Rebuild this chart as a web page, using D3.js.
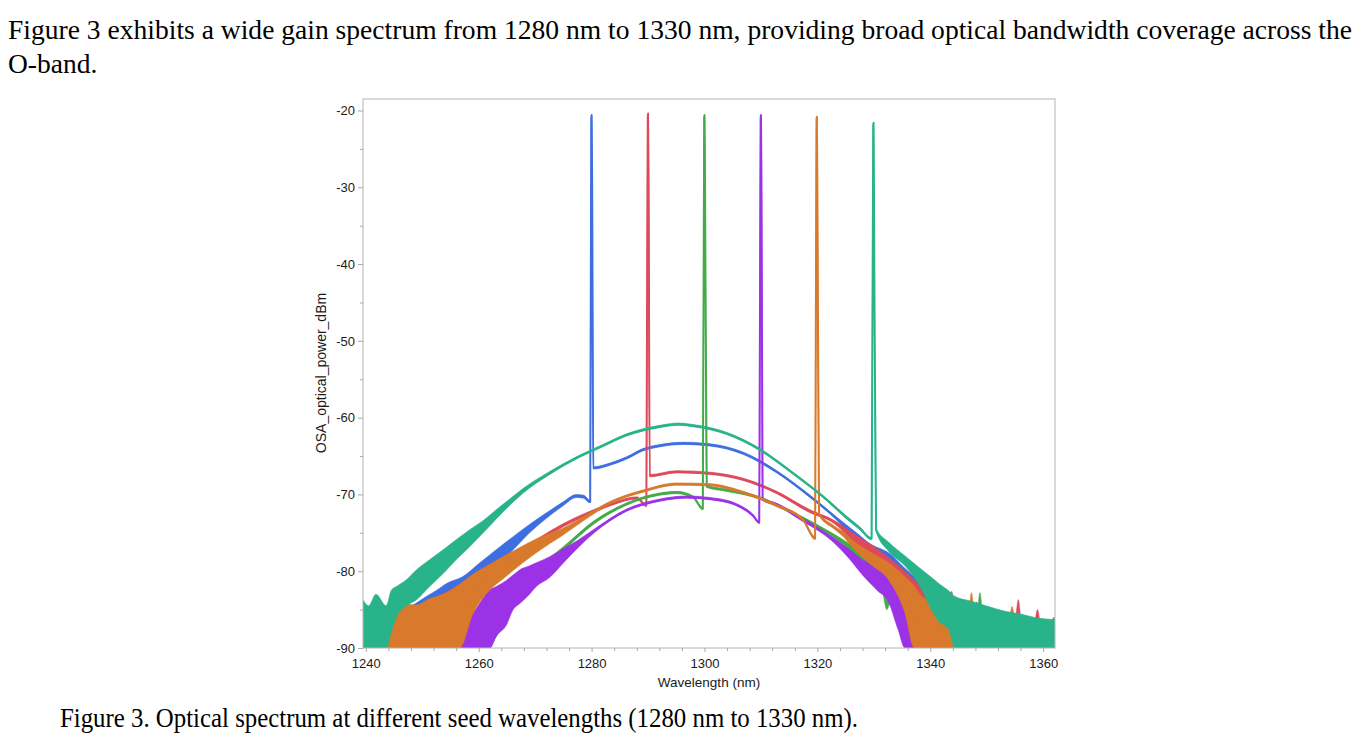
<!DOCTYPE html>
<html>
<head>
<meta charset="utf-8">
<script src="https://cdnjs.cloudflare.com/ajax/libs/d3/7.8.5/d3.min.js"></script>
<style>
	body { margin: 0; background: #fff; }
	svg { display: block; }
	.para { font-family: "Liberation Serif", "Times New Roman", serif; font-size: 27.5px; fill: #000; }
	.caption { font-family: "Liberation Serif", "Times New Roman", serif; font-size: 27px; fill: #000; }
	.axis text { font-family: "Liberation Sans", Arial, sans-serif; font-size: 13px; fill: #1a1a1a; }
	.axis line { stroke: #a8a8a8; }
	.axis path { display: none; }
	.label { font-family: "Liberation Sans", Arial, sans-serif; font-size: 13.5px; fill: #1a1a1a; }
</style>
</head>
<body>
<script>
// seed wavelengths (nm), one trace per seed
var seeds = [1280, 1290, 1300, 1310, 1320, 1330];
var colors = ["#3e6fe0", "#dc4a5c", "#43ab48", "#9c32e6", "#d8792b", "#28b38b"];

var xTicks = [1240, 1260, 1280, 1300, 1320, 1340, 1360];
var yTicks = [-90, -80, -70, -60, -50, -40, -30, -20];

// traces: [wavelength nm, upper edge dBm, lower edge dBm]
// where the trace is noisy the two edges are apart, elsewhere they nearly meet
var spec1280 = [
	[1239.5, -85, -90], [1244, -85, -90], [1248, -84.5, -90], [1250.7, -83.3, -87],
	[1252.5, -82.5, -85.5], [1254.3, -81.6, -84.1], [1257.2, -80.7, -83.3], [1260.2, -78.9, -81.1],
	[1263.1, -77.2, -79.2], [1266.1, -75.5, -77.2], [1269, -73.9, -75], [1272, -72.4, -73.1],
	[1274.9, -71, -71.5], [1277.3, -70, -70.4], [1278.6, -70.1, -70.5], [1279.75, -70.8, -71.1],
	[1279.95, -21, -21], [1280, -20.6, -20.6], [1280.1, -30, -30], [1280.3, -66.4, -66.7],
	[1283.3, -65.9, -66.2], [1286.2, -65.1, -65.4], [1289.2, -64, -64.3], [1292.1, -63.5, -63.8],
	[1296.3, -63.2, -63.5], [1301, -63.4, -63.7], [1306.9, -64.5, -64.8], [1312.8, -66.9, -67.2],
	[1318.7, -70.1, -70.4], [1323.5, -73, -73.4], [1326.6, -74.8, -75.8], [1329.5, -76.5, -77.8],
	[1332.6, -77.6, -79.2], [1335.5, -79.6, -81.5], [1337.9, -81.2, -84], [1340, -82.5, -90],
	[1343, -84.5, -90], [1348, -85.8, -90], [1351.5, -86.2, -90], [1352.1, -85.3, -90],
	[1352.7, -86.3, -90], [1362.1, -87, -90]
];

var spec1290 = [
	[1239.5, -86, -90], [1244, -86, -90], [1246, -85.6, -90], [1250, -84.2, -90],
	[1253, -83.2, -88], [1256, -82, -86], [1259, -80.4, -84], [1262, -79.1, -81.5],
	[1265, -77.9, -79.2], [1268, -76.8, -77.6], [1271, -75.5, -76], [1275, -73.8, -74.2],
	[1280.3, -72, -72.4], [1284, -71, -71.3], [1288, -70.3, -70.6], [1289.7, -71.3, -71.6],
	[1289.95, -21, -21], [1290, -20.4, -20.4], [1290.1, -30, -30], [1290.3, -67.4, -67.7],
	[1295.1, -66.9, -67.2], [1301, -67.1, -67.4], [1306.9, -67.9, -68.2], [1312.8, -69.6, -69.9],
	[1318.7, -72, -72.4], [1322.8, -73.3, -73.7], [1326.6, -75.2, -76.3], [1329.6, -76.6, -78.2],
	[1332.6, -78.2, -80.5], [1335.5, -80, -83.5], [1338, -81.8, -90], [1341, -84, -90],
	[1343.2, -85, -90], [1343.8, -82.6, -90], [1344.4, -85.5, -90], [1350, -86.3, -90],
	[1355, -86.6, -90], [1355.6, -83.7, -90], [1356.2, -86.8, -90], [1358.4, -86.9, -90],
	[1359, -85, -90], [1359.6, -87, -90], [1362.1, -87, -90]
];

var spec1300 = [
	[1239.5, -86.5, -90], [1250, -86.5, -90], [1258, -86, -90], [1261.4, -85, -90],
	[1263.5, -83.5, -88], [1265.5, -82.2, -85], [1267.3, -80.8, -82.8], [1270.2, -79.3, -80.5],
	[1272.6, -78.2, -78.9], [1275, -76.8, -77.3], [1280.3, -73.5, -73.9], [1286.2, -71.1, -71.4],
	[1292.1, -69.8, -70.1], [1295.1, -69.6, -69.9], [1298, -70.2, -70.5], [1299.7, -71.7, -72],
	[1299.95, -21, -21], [1300, -20.6, -20.6], [1300.1, -30, -30], [1300.4, -68.8, -69.1],
	[1303.9, -69.3, -69.6], [1309.8, -70.3, -70.6], [1315.7, -72.3, -72.6], [1321.6, -74.6, -75],
	[1326, -76.6, -77.4], [1329, -78.3, -79.8], [1331.5, -79.6, -82.5], [1332.3, -80, -85],
	[1333, -80.5, -84], [1335, -81.5, -87], [1337, -82.5, -90], [1340, -84.5, -90],
	[1345, -85.8, -90], [1348.2, -86.2, -90], [1348.8, -82.8, -90], [1349.4, -86.3, -90],
	[1361.3, -87, -90], [1361.9, -86, -90], [1362.1, -86.5, -90]
];

var spec1310 = [
	[1239.5, -86, -90], [1241, -85.2, -90], [1242, -86.5, -90], [1255, -86.5, -90],
	[1256.6, -87, -90], [1259, -85.4, -90], [1262, -82.4, -90], [1263.1, -82, -88.5],
	[1264.9, -81.2, -87], [1266.1, -80.5, -85], [1267.3, -79.8, -84.2], [1269, -79.3, -83],
	[1270.2, -78.9, -82], [1272.6, -78.1, -80.8], [1274.9, -77.1, -79], [1277.5, -76, -77],
	[1280.3, -74.6, -75.1], [1286.2, -71.9, -72.2], [1292.1, -70.6, -70.9], [1296.8, -70.2, -70.5],
	[1301, -70.4, -70.7], [1305.7, -71.2, -71.5], [1308.6, -72.6, -72.9], [1309.7, -73.5, -73.8],
	[1309.95, -21, -21], [1310, -20.6, -20.6], [1310.1, -30, -30], [1310.3, -70.5, -70.8],
	[1313, -71.2, -71.5], [1316.5, -72.7, -73.1], [1322.8, -75.6, -76.2], [1325.8, -77.2, -78.5],
	[1328, -78.5, -80.5], [1330.6, -79.5, -82.5], [1332.6, -80.7, -84], [1334.3, -82.4, -87.6],
	[1335.5, -83, -90], [1338, -85, -90], [1342, -86, -90], [1347.5, -86.5, -90],
	[1348.2, -84, -90], [1349, -86.6, -90], [1362.1, -87, -90]
];

var spec1320 = [
	[1242.8, -87.5, -90], [1243.6, -86, -90], [1245.4, -85.4, -90], [1247.2, -84.3, -90],
	[1249, -84.4, -90], [1251.3, -83.6, -90], [1254.3, -82.8, -90], [1256.6, -81.7, -90],
	[1259, -80.4, -85.5], [1262, -79.1, -82.4], [1264.3, -78.1, -81], [1267.3, -76.9, -79.2],
	[1270.2, -75.8, -77.6], [1272.6, -75.1, -76.4], [1274.9, -74.4, -75.3], [1279, -72.7, -73.2],
	[1283.3, -70.9, -71.2], [1289.2, -69.4, -69.7], [1295.1, -68.5, -68.8], [1301, -68.6, -68.9],
	[1306.9, -69.6, -69.9], [1312.8, -71.3, -71.6], [1317.5, -73.2, -73.5], [1319.6, -75.5, -75.9],
	[1319.85, -21.2, -21.2], [1319.9, -20.8, -20.8], [1320, -30, -30], [1320.3, -72.4, -72.7],
	[1322.8, -74, -74.4], [1324.6, -74.9, -75.5], [1326.6, -76.2, -77.2], [1329.6, -77.6, -79.2],
	[1332.6, -78.9, -81.1], [1335.5, -80.7, -85.4], [1337.2, -82, -90], [1338.5, -83.3, -90],
	[1340.5, -84, -90], [1342, -85, -90], [1343.7, -85.2, -90], [1345, -86, -90],
	[1346.7, -86.2, -90], [1347.3, -82.8, -90], [1347.9, -86.3, -90], [1353.9, -86.6, -90],
	[1354.5, -84.6, -90], [1355.1, -86.7, -90], [1362.1, -87, -90]
];

var spec1330 = [
	[1239.5, -83.7, -90], [1240.5, -84.5, -90], [1241.8, -83, -90], [1243.6, -84.5, -90],
	[1244.5, -82.5, -88], [1245.4, -82, -86], [1247.2, -81.1, -84.5], [1249, -79.8, -83.7],
	[1251.3, -78.5, -82], [1253.7, -77.2, -80.3], [1256, -75.9, -78.5], [1258.4, -74.6, -76.8],
	[1260.8, -73.4, -75], [1263.1, -72, -73.2], [1265.5, -70.6, -71.4], [1267.9, -69.2, -69.8],
	[1272.6, -67, -67.4], [1277.3, -65.1, -65.4], [1282, -63.5, -63.8], [1286.2, -62.1, -62.4],
	[1292.1, -61, -61.3], [1295.4, -60.7, -61], [1298, -60.9, -61.2], [1303.9, -61.9, -62.2],
	[1309.8, -64, -64.3], [1315.7, -67.1, -67.4], [1321.6, -70.5, -70.8], [1325, -72.7, -73.1],
	[1327.5, -74.2, -74.6], [1329.6, -75.6, -75.9], [1329.9, -22, -22], [1329.95, -21.6, -21.6],
	[1330.05, -35, -35], [1330.4, -74.4, -74.8], [1332.6, -76.2, -77.4], [1335.5, -78, -79.3],
	[1338.5, -79.8, -82.4], [1340.2, -80.8, -85], [1341.5, -81.6, -86.5], [1343.2, -82.5, -87.5],
	[1344.4, -83.3, -90], [1347.3, -83.9, -90], [1350.3, -84.6, -90], [1353.2, -85.2, -90],
	[1356.2, -85.6, -90], [1359, -86.1, -90], [1362.1, -86.3, -90]
];

var spectra = [spec1280, spec1290, spec1300, spec1310, spec1320, spec1330];

var W = 1368, H = 743;
var plot = { left: 363, top: 99, right: 1055, bottom: 648 };

var svg = d3.select("body").append("svg")
	.attr("width", W)
	.attr("height", H);

// paragraph text above and caption below
svg.append("text").attr("class", "para").attr("x", 8).attr("y", 39)
	.attr("textLength", 1344).attr("lengthAdjust", "spacingAndGlyphs")
	.text("Figure 3 exhibits a wide gain spectrum from 1280 nm to 1330 nm, providing broad optical bandwidth coverage across the");
svg.append("text").attr("class", "para").attr("x", 8).attr("y", 73)
	.text("O-band.");
svg.append("text").attr("class", "caption").attr("x", 60).attr("y", 727)
	.attr("textLength", 798).attr("lengthAdjust", "spacingAndGlyphs")
	.text("Figure 3. Optical spectrum at different seed wavelengths (1280 nm to 1330 nm).");

var x = d3.scaleLinear().domain([1239.5, 1362.1]).range([plot.left, plot.right]);
var y = d3.scaleLinear().domain([-90, -18.5]).range([plot.bottom, plot.top]);

svg.append("defs").append("clipPath").attr("id", "clip")
	.append("rect")
	.attr("x", plot.left).attr("y", plot.top)
	.attr("width", plot.right - plot.left).attr("height", plot.bottom - plot.top);

var g = svg.append("g").attr("clip-path", "url(#clip)");

var band = d3.area()
	.curve(d3.curveMonotoneX)
	.x(function(d) { return x(d[0]); })
	.y0(function(d) { return y(d[2]); })
	.y1(function(d) { return y(d[1]); });

var mid = d3.line()
	.curve(d3.curveMonotoneX)
	.x(function(d) { return x(d[0]); })
	.y(function(d) { return y((d[1] + d[2]) / 2); });

spectra.forEach(function(s, i) {
	g.append("path")
		.attr("d", band(s))
		.attr("fill", colors[i])
		.attr("stroke", colors[i])
		.attr("stroke-width", 0.6);
	g.append("path")
		.attr("d", mid(s))
		.attr("fill", "none")
		.attr("stroke", colors[i])
		.attr("stroke-width", 2)
		.attr("stroke-linejoin", "round");
});

// frame
svg.append("rect")
	.attr("x", plot.left).attr("y", plot.top)
	.attr("width", plot.right - plot.left).attr("height", plot.bottom - plot.top)
	.attr("fill", "none")
	.attr("stroke", "#b4b4b4")
	.attr("stroke-width", 1);

// axes, major + minor ticks
var xMinor = d3.range(1244, 1362, 4).filter(function(v) { return xTicks.indexOf(v) < 0; });
var yMinor = d3.range(-85, -18, 10);
var plain = function(d) { return String(d); };

svg.append("g").attr("class", "axis")
	.attr("transform", "translate(0," + plot.bottom + ")")
	.call(d3.axisBottom(x).tickValues(xTicks).tickSize(4).tickPadding(7).tickFormat(plain));
svg.append("g").attr("class", "axis")
	.attr("transform", "translate(0," + plot.bottom + ")")
	.call(d3.axisBottom(x).tickValues(xMinor).tickSize(3).tickFormat(""));

svg.append("g").attr("class", "axis")
	.attr("transform", "translate(" + plot.left + ",0)")
	.call(d3.axisLeft(y).tickValues(yTicks).tickSize(5).tickPadding(3).tickFormat(plain));
svg.append("g").attr("class", "axis")
	.attr("transform", "translate(" + plot.left + ",0)")
	.call(d3.axisLeft(y).tickValues(yMinor).tickSize(3).tickFormat(""));

svg.append("text").attr("class", "label")
	.attr("x", (plot.left + plot.right) / 2).attr("y", 687)
	.attr("text-anchor", "middle")
	.text("Wavelength (nm)");

svg.append("text").attr("class", "label")
	.attr("transform", "translate(326,373) rotate(-90)")
	.attr("text-anchor", "middle")
	.style("font-size", "14px")
	.text("OSA_optical_power_dBm");
</script>
</body>
</html>
